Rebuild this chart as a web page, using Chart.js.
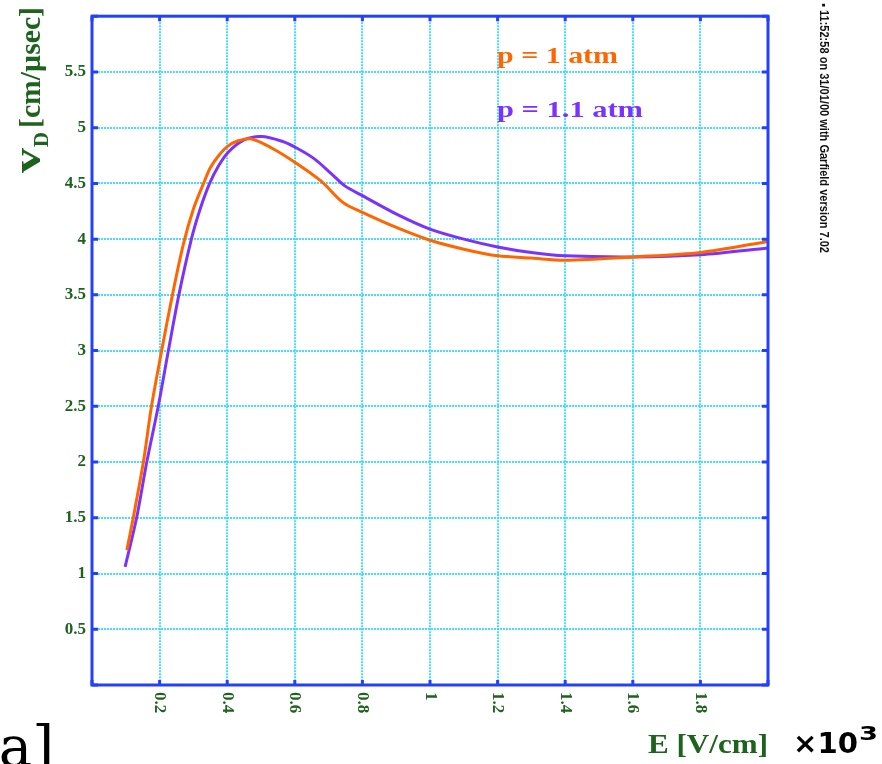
<!DOCTYPE html>
<html>
<head>
<meta charset="utf-8">
<script src="https://cdn.jsdelivr.net/npm/chart.js@4/dist/chart.umd.min.js"></script>
<style>
    body { margin: 0; background: #fff; }
    canvas { display: block; }
</style>
</head>
<body>
<canvas id="grafico" width="882" height="764"></canvas>
<script>
// p = 1 atm (laranja)
var campo1 = [0.103, 0.122, 0.152, 0.176, 0.206, 0.238, 0.27, 0.30, 0.33, 0.35, 0.375, 0.40, 0.43, 0.47, 0.53, 0.6, 0.678, 0.742, 0.8, 0.904, 1.0, 1.1, 1.2, 1.3, 1.4, 1.6, 1.8, 2.0];
var vel1 = [1.21, 1.5, 2.0, 2.5, 3.0, 3.5, 3.95, 4.27, 4.5, 4.64, 4.75, 4.83, 4.88, 4.90, 4.82, 4.69, 4.52, 4.33, 4.24, 4.10, 3.99, 3.91, 3.85, 3.83, 3.81, 3.84, 3.88, 3.98];

// p = 1.1 atm (roxo)
var campo2 = [0.098, 0.132, 0.162, 0.196, 0.226, 0.257, 0.294, 0.32, 0.348, 0.375, 0.403, 0.45, 0.501, 0.56, 0.604, 0.658, 0.707, 0.747, 0.8, 0.904, 1.0, 1.1, 1.2, 1.3, 1.4, 1.6, 1.8, 2.0];
var vel2 = [1.06, 1.5, 2.0, 2.5, 3.0, 3.5, 4.0, 4.27, 4.5, 4.66, 4.78, 4.89, 4.92, 4.88, 4.82, 4.72, 4.59, 4.48, 4.39, 4.22, 4.09, 4.0, 3.93, 3.88, 3.85, 3.84, 3.86, 3.92];

var nomes = ['p = 1 atm', 'p = 1.1 atm'];
var rotulosX = ['0.2', '0.4', '0.6', '0.8', '1', '1.2', '1.4', '1.6', '1.8'];
var rotulosY = ['0.5', '1', '1.5', '2', '2.5', '3', '3.5', '4', '4.5', '5', '5.5'];

var laranja = '#ff6600';
var roxo = '#7a33ff';
var azul = '#2440ff';
var verde = '#1d631d';
var ciano = 'rgba(40,215,255,0.85)';

function pontos(xs, ys) {
    var lista = [];
    for (var i = 0; i < xs.length; i++) {
        lista.push({ x: xs[i], y: ys[i] });
    }
    return lista;
}

// escreve texto esticado para caber na largura pedida
function texto(ctx, s, x, y, fonte, cor, largura) {
    ctx.save();
    ctx.font = fonte;
    ctx.fillStyle = cor;
    ctx.textAlign = 'left';
    ctx.textBaseline = 'alphabetic';
    var w = ctx.measureText(s).width;
    ctx.translate(x, y);
    if (largura) ctx.scale(largura / w, 1);
    ctx.fillText(s, 0, 0);
    ctx.restore();
    return largura || w;
}

function rotulo(v, lista) {
    var s = String(Math.round(v * 10) / 10);
    return lista.indexOf(s) == -1 ? '' : s;
}

const desenhos = {
    id: 'desenhos',
    afterDatasetsDraw(chart) {
        const ctx = chart.ctx;
        const a = chart.chartArea;
        const sx = chart.scales.x;
        const sy = chart.scales.y;
        ctx.save();
        ctx.strokeStyle = azul;
        ctx.lineWidth = 3;
        ctx.beginPath();
        sx.ticks.forEach(t => {
            const px = sx.getPixelForValue(t.value);
            ctx.moveTo(px, a.bottom); ctx.lineTo(px, a.bottom - 5);
            ctx.moveTo(px, a.top); ctx.lineTo(px, a.top + 5);
        });
        sy.ticks.forEach(t => {
            const py = sy.getPixelForValue(t.value);
            ctx.moveTo(a.left, py); ctx.lineTo(a.left + 6, py);
            ctx.moveTo(a.right, py); ctx.lineTo(a.right - 6, py);
        });
        ctx.stroke();
        ctx.strokeRect(a.left, a.top, a.right - a.left, a.bottom - a.top);
        ctx.restore();
    },
    afterDraw(chart) {
        const ctx = chart.ctx;
        const a = chart.chartArea;
        const sx = chart.scales.x;

        // rotulos do eixo x, girados
        ctx.save();
        ctx.font = 'bold 17px "Liberation Serif"';
        ctx.fillStyle = verde;
        ctx.textAlign = 'left';
        ctx.textBaseline = 'middle';
        sx.ticks.forEach(t => {
            const s = rotulo(t.value, rotulosX);
            if (!s) return;
            const px = sx.getPixelForValue(t.value);
            ctx.save();
            ctx.translate(px, a.bottom + 7);
            ctx.rotate(Math.PI / 2);
            ctx.fillText(s, 0, 0);
            ctx.restore();
        });
        ctx.restore();

        // legenda
        texto(ctx, nomes[0], 497, 63, 'bold 24px "Liberation Serif"', laranja, 121);
        texto(ctx, nomes[1], 497, 117, 'bold 24px "Liberation Serif"', roxo, 146);

        // titulo do eixo y
        ctx.save();
        ctx.translate(40, 173);
        ctx.rotate(-Math.PI / 2);
        texto(ctx, 'v', 0, 0, 'bold 38px "Liberation Serif"', verde, 25);
        texto(ctx, 'D', 26, 8, 'bold 21px "Liberation Serif"', verde, 15);
        texto(ctx, '[cm/\u00b5sec]', 45, 0, 'bold 29px "Liberation Serif"', verde, 121);
        ctx.restore();

        // titulo do eixo x
        texto(ctx, 'E [V/cm]', 648, 753, 'bold 27px "Liberation Serif"', verde, 120);
        texto(ctx, '\u00d710', 793, 753, 'bold 29px "DejaVu Sans"', '#000', 65);
        texto(ctx, '3', 859, 740, 'bold 20px "DejaVu Sans"', '#000', 19);

        // [a]
        ctx.save();
        ctx.font = '56px "DejaVu Serif"';
        ctx.fillStyle = '#000';
        ctx.textAlign = 'right';
        ctx.fillText('[a]', 54, 766);
        ctx.restore();

        // carimbo lateral
        ctx.save();
        ctx.translate(820, 3);
        ctx.rotate(Math.PI / 2);
        texto(ctx, '\u25aa 11:52:58 on 31/01/00 with Garfield version 7.02', 0, 0, 'bold 12px "Liberation Sans Narrow", "Liberation Sans"', '#111', 250);
        ctx.restore();
    }
};

const config = {
    type: 'line',
    data: {
        datasets: [{
            label: nomes[0],
            data: pontos(campo1, vel1),
            borderColor: laranja,
            borderWidth: 3,
            pointRadius: 0,
            tension: 0.3,
            fill: false
        }, {
            label: nomes[1],
            data: pontos(campo2, vel2),
            borderColor: roxo,
            borderWidth: 3,
            pointRadius: 0,
            tension: 0.3,
            fill: false
        }]
    },
    options: {
        responsive: false,
        animation: false,
        layout: { padding: { left: 0, top: 6, right: 114, bottom: 0 } },
        plugins: {
            legend: { display: false },
            tooltip: { enabled: false }
        },
        scales: {
            x: {
                type: 'linear',
                min: 0,
                max: 2,
                ticks: { stepSize: 0.2, display: false },
                grid: { color: ciano, lineWidth: 2, drawTicks: false },
                border: { display: false, dash: [2, 1] },
                afterFit: function (s) { s.height = 79; }
            },
            y: {
                type: 'linear',
                min: 0,
                max: 6,
                ticks: {
                    stepSize: 0.5,
                    padding: 6,
                    color: verde,
                    font: { family: '"Liberation Serif"', weight: 'bold', size: 17 },
                    callback: function (v) { return rotulo(v, rotulosY); }
                },
                grid: { color: ciano, lineWidth: 2, drawTicks: false },
                border: { display: false, dash: [2, 1] },
                afterFit: function (s) { s.width = 92; }
            }
        }
    },
    plugins: [desenhos]
};

const grafico = new Chart(document.getElementById('grafico'), config);
</script>
</body>
</html>
